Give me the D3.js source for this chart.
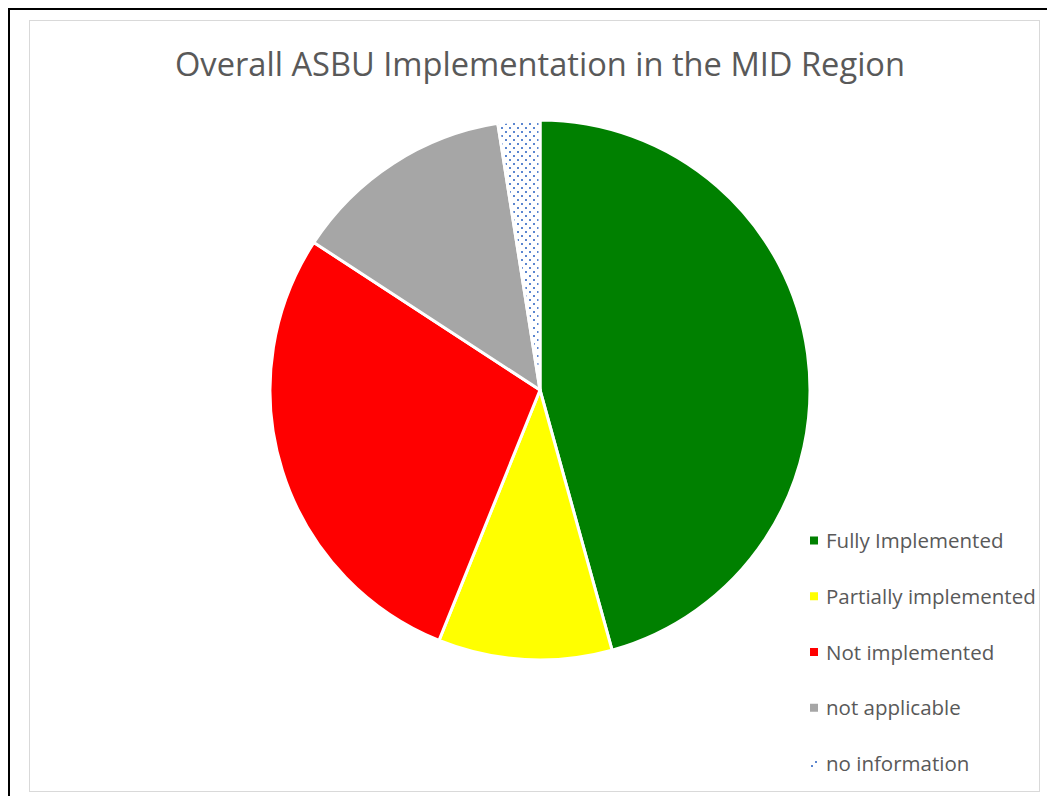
<!DOCTYPE html>
<html>
<head>
<meta charset="utf-8">
<script src="https://cdn.jsdelivr.net/npm/d3@7"></script>
<style>
  body { margin: 0; background: #fff; }
  svg { display: block; font-family: "Open Sans", Calibri, sans-serif; }
</style>
</head>
<body>
<div id="chart"></div>
<script>
// data
const categories = ["Fully Implemented", "Partially implemented", "Not implemented", "not applicable", "no information"];
const shares = [45.7, 10.4, 28.1, 13.3, 2.5];
const colors = ["#008000", "#ffff00", "#ff0000", "#a6a6a6", "url(#dots)"];
const title = "Overall ASBU Implementation in the MID Region";

const width = 1047, height = 796;
const cx = 540, cy = 390, radius = 270;

const svg = d3.select("#chart").append("svg")
  .attr("width", width)
  .attr("height", height);

// dotted fill for "no information"
const defs = svg.append("defs");
const pat = defs.append("pattern")
  .attr("id", "dots")
  .attr("patternUnits", "userSpaceOnUse")
  .attr("width", 8).attr("height", 8);
pat.append("rect").attr("width", 8).attr("height", 8).attr("fill", "#fff");
pat.append("rect").attr("x", 1).attr("y", 1).attr("width", 2).attr("height", 2).attr("fill", "#5b86d0");
pat.append("rect").attr("x", 5).attr("y", 5).attr("width", 2).attr("height", 2).attr("fill", "#5b86d0");

// outer frame and chart area
svg.append("rect")
  .attr("x", 9).attr("y", 9)
  .attr("width", width + 10).attr("height", height + 10)
  .attr("fill", "none").attr("stroke", "#000").attr("stroke-width", 2);
svg.append("rect")
  .attr("x", 29.5).attr("y", 20.5)
  .attr("width", 1010).attr("height", 771)
  .attr("fill", "#fff").attr("stroke", "#d9d9d9").attr("stroke-width", 1);

svg.append("text")
  .attr("x", 540).attr("y", 76)
  .attr("text-anchor", "middle")
  .attr("fill", "#595959")
  .attr("font-size", 32)
  .attr("textLength", 730)
  .attr("lengthAdjust", "spacingAndGlyphs")
  .text(title);

const pie = d3.pie().sort(null).value(d => d)(shares);
const arc = d3.arc().innerRadius(0).outerRadius(radius);

svg.append("g")
  .attr("transform", `translate(${cx},${cy})`)
  .selectAll("path")
  .data(pie)
  .join("path")
  .attr("d", arc)
  .attr("fill", (d, i) => colors[i])
  .attr("stroke", "#fff")
  .attr("stroke-width", 3)
  .attr("stroke-linejoin", "round");

// legend
const y = d3.scalePoint().domain(categories).range([541, 764]);
const leg = svg.append("g")
  .selectAll("g")
  .data(categories)
  .join("g")
  .attr("transform", d => `translate(810,${y(d)})`);

leg.append("rect")
  .attr("x", 0).attr("y", -4.5)
  .attr("width", 8).attr("height", 8)
  .attr("fill", (d, i) => colors[i]);

leg.append("text")
  .attr("x", 16).attr("y", 0)
  .attr("dy", "0.35em")
  .attr("fill", "#595959")
  .attr("font-size", 20.5)
  .text(d => d);
</script>
</body>
</html>
